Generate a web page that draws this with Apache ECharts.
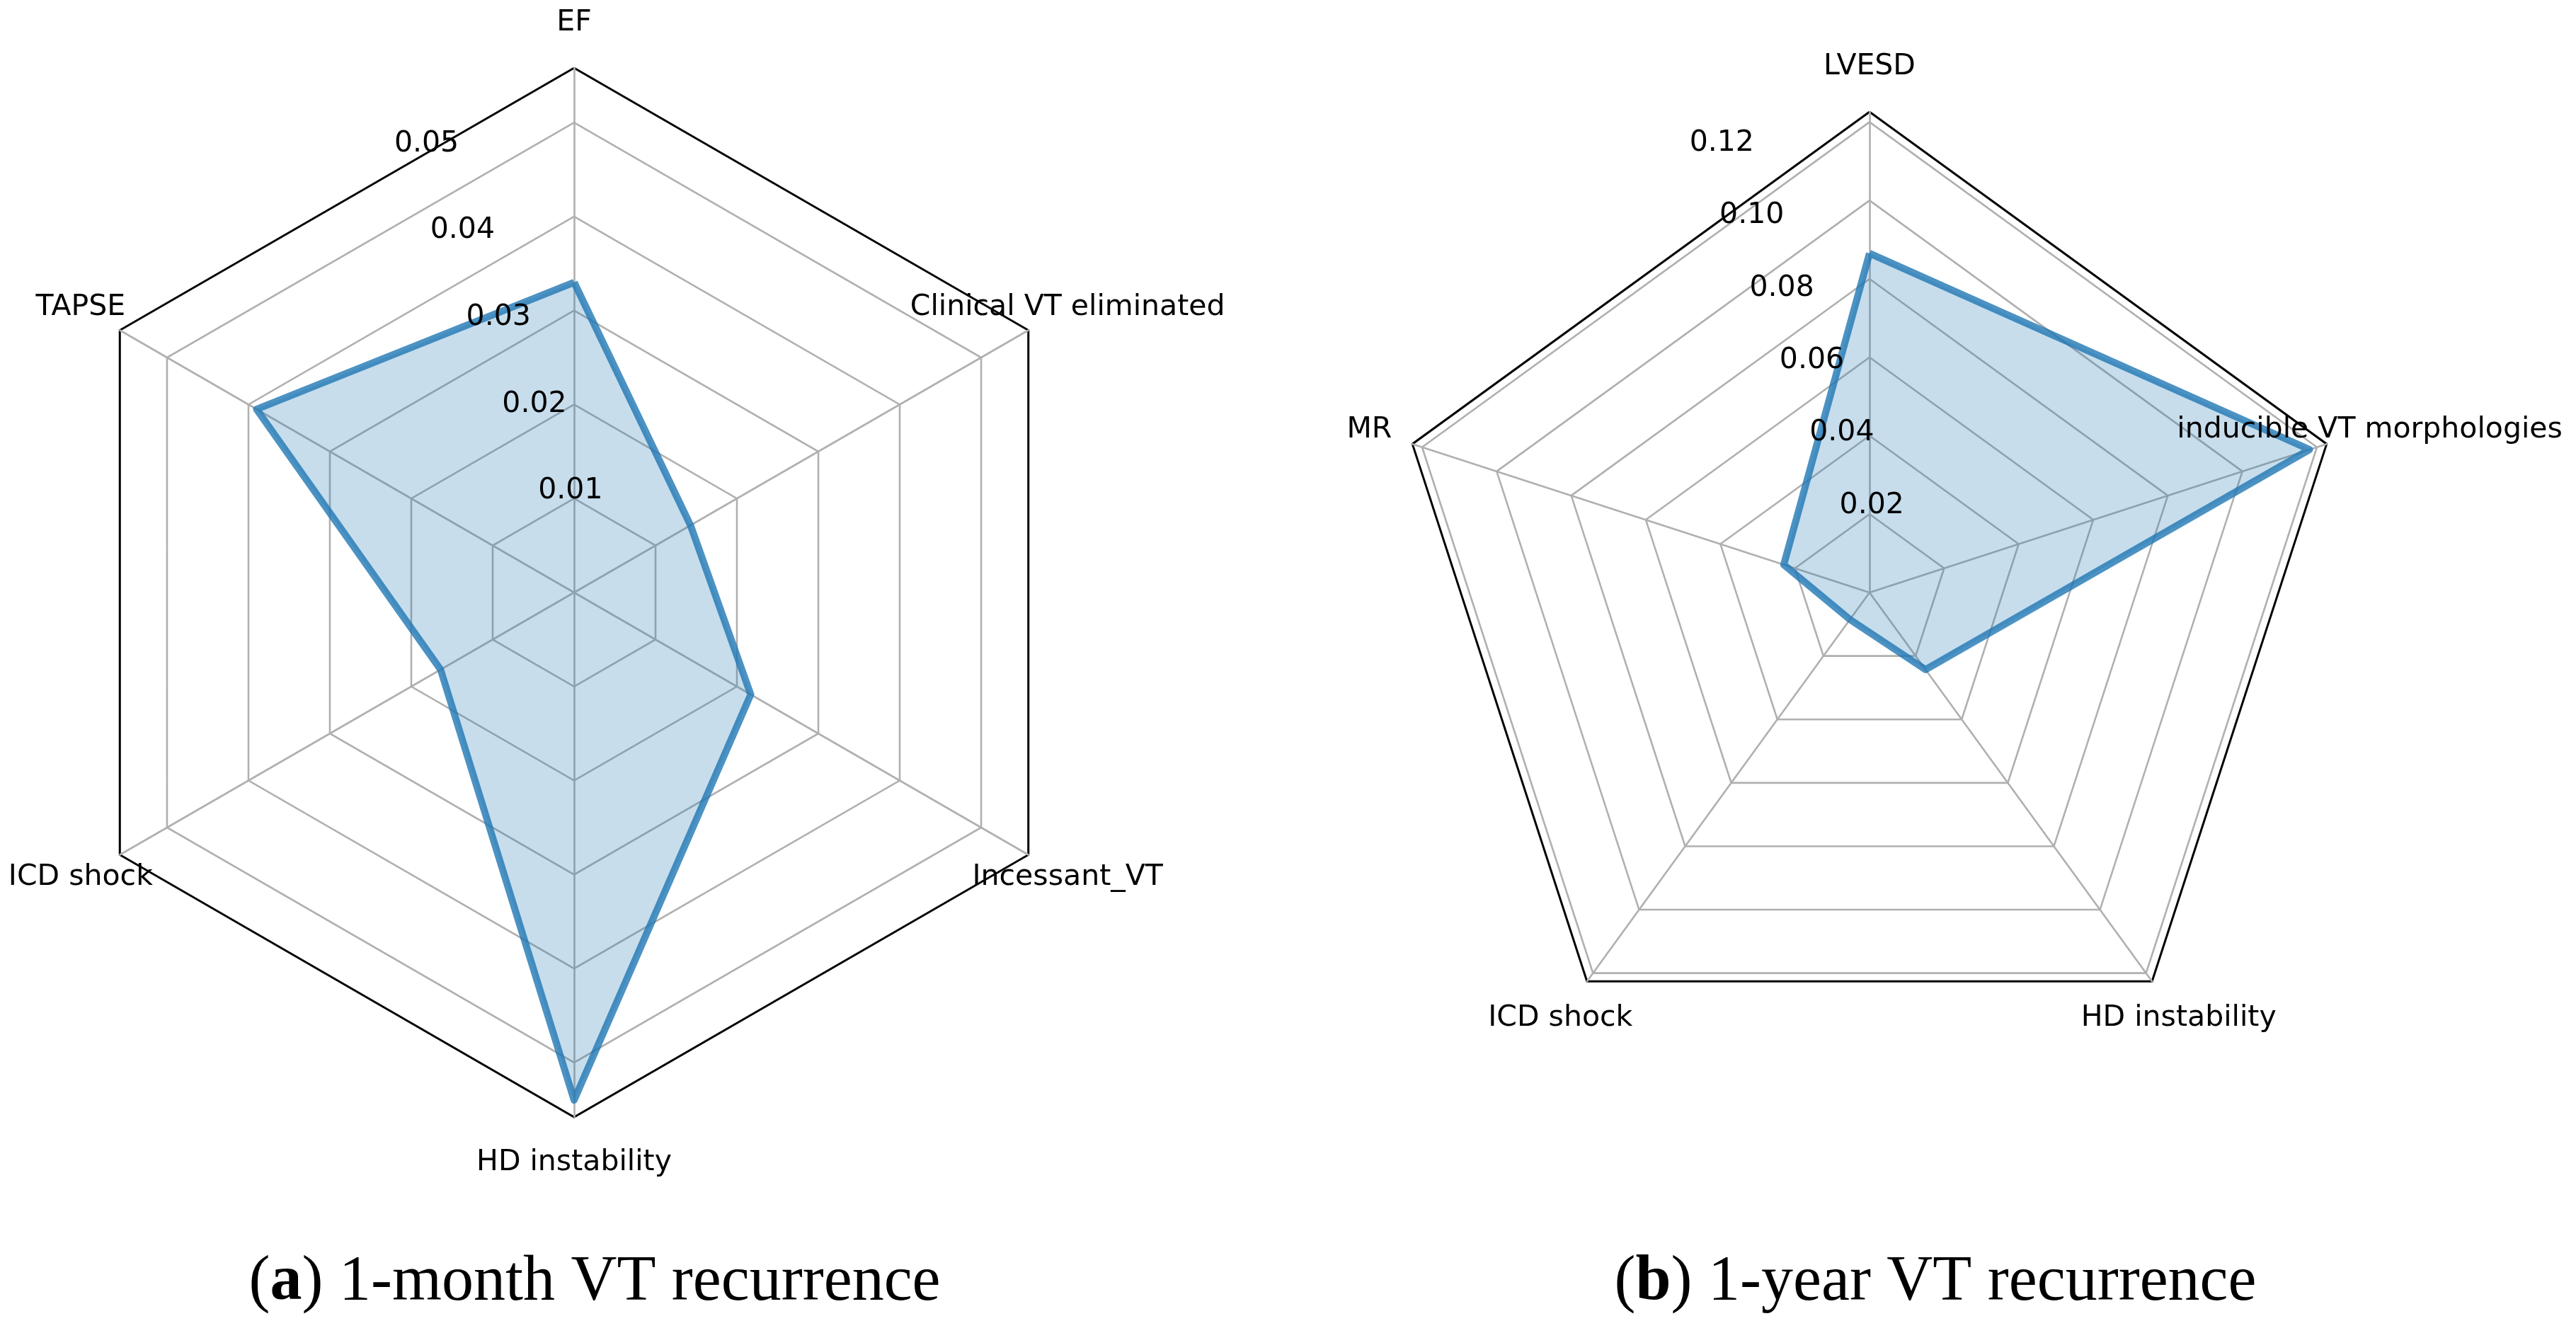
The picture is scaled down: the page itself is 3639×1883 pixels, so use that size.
<!DOCTYPE html>
<html>
<head>
<meta charset="utf-8">
<script src="https://cdn.jsdelivr.net/npm/echarts@6/dist/echarts.min.js"></script>
<style>
html,body{margin:0;padding:0;background:#fff;}
#chart{width:3639px;height:1883px;}
</style>
</head>
<body>
<div id="chart"></div>
<script>
// ---- data (clockwise from top, as in the reference) ----
const catsA = ['EF', 'Clinical VT eliminated', 'Incessant_VT', 'HD instability', 'ICD shock', 'TAPSE'];
const valsA = [0.033, 0.0143, 0.0217, 0.054, 0.0164, 0.039];
const ticksA = [0.01, 0.02, 0.03, 0.04, 0.05];
const tickLabelsA = ['0.01', '0.02', '0.03', '0.04', '0.05'];
const maxA = 0.0558;

const catsB = ['LVESD', 'inducible VT morphologies', 'HD instability', 'ICD shock', 'MR'];
const valsB = [0.0865, 0.118, 0.0243, 0.0085, 0.023];
const ticksB = [0.02, 0.04, 0.06, 0.08, 0.10, 0.12];
const tickLabelsB = ['0.02', '0.04', '0.06', '0.08', '0.10', '0.12'];
const maxB = 0.1226;

const captionA = '({b|a}) 1-month VT recurrence';
const captionB = '({b|b}) 1-year VT recurrence';

// ---- layout ----
const panels = [
  {cats: catsA, vals: valsA, ticks: ticksA, labels: tickLabelsA, max: maxA, cx: 811, cy: 837, R: 741, caption: captionA, capX: 840},
  {cats: catsB, vals: valsB, ticks: ticksB, labels: tickLabelsB, max: maxB, cx: 2641, cy: 837, R: 679, caption: captionB, capX: 2734}
];
const GRID = '#b0b0b0';
const LABEL_FONT = {fontFamily: 'DejaVu Sans', fontSize: 41, fill: '#000'};
const NAME_PAD = 64;
const RLABEL_ANGLE = 112.5 * Math.PI / 180;

const radars = [];
const series = [];
const graphics = [];

panels.forEach(function (p) {
  const n = p.cats.length;
  // ECharts places indicators counter-clockwise; reorder so they run clockwise
  const order = [0];
  for (let i = n - 1; i >= 1; i--) order.push(i);
  const tickMax = p.ticks[p.ticks.length - 1];

  // inner gray rings at tick values
  radars.push({
    center: [p.cx, p.cy],
    radius: p.R * tickMax / p.max,
    shape: 'polygon',
    splitNumber: p.ticks.length,
    indicator: order.map(function (i) { return {name: p.cats[i], min: 0, max: tickMax}; }),
    axisName: {show: false},
    axisLine: {show: false},
    axisTick: {show: false},
    axisLabel: {show: false},
    splitArea: {show: false},
    splitLine: {lineStyle: {color: GRID, width: 2.6}}
  });
  // outer frame + spokes, carries the data
  radars.push({
    center: [p.cx, p.cy],
    radius: p.R,
    shape: 'polygon',
    splitNumber: 1,
    indicator: order.map(function (i) { return {name: p.cats[i], min: 0, max: p.max}; }),
    axisName: {show: false},
    axisLine: {lineStyle: {color: GRID, width: 2.6}},
    axisTick: {show: false},
    axisLabel: {show: false},
    splitArea: {show: false},
    splitLine: {lineStyle: {color: '#000', width: 3}}
  });
  series.push({
    type: 'radar',
    radarIndex: radars.length - 1,
    symbol: 'none',
    z: 5,
    lineStyle: {color: 'rgba(31,119,180,0.8)', width: 10, join: 'round'},
    areaStyle: {color: '#1f77b4', opacity: 0.25},
    data: [{value: order.map(function (i) { return p.vals[i]; })}]
  });

  // category names (centered outside the frame)
  p.cats.forEach(function (c, i) {
    const a = (90 - i * 360 / n) * Math.PI / 180;
    const r = p.R + NAME_PAD;
    graphics.push({
      type: 'text', z: 100,
      x: p.cx + r * Math.cos(a), y: p.cy - r * Math.sin(a),
      style: Object.assign({text: c, align: 'center', verticalAlign: 'middle'}, LABEL_FONT)
    });
  });
  // radial tick labels at 22.5 deg left of vertical
  p.ticks.forEach(function (t, k) {
    const r = p.R * t / p.max;
    graphics.push({
      type: 'text', z: 100,
      x: p.cx + r * Math.cos(RLABEL_ANGLE), y: p.cy - r * Math.sin(RLABEL_ANGLE),
      style: Object.assign({text: p.labels[k], align: 'left', verticalAlign: 'bottom'}, LABEL_FONT)
    });
  });
  // caption
  graphics.push({
    type: 'text', z: 100,
    x: p.capX, y: 1812,
    style: {
      text: p.caption, align: 'center', verticalAlign: 'middle',
      fontFamily: 'Liberation Serif', fontSize: 90, fill: '#000',
      rich: {b: {fontFamily: 'Liberation Serif', fontSize: 90, fontWeight: 'bold', fill: '#000'}}
    }
  });
});

const chart = echarts.init(document.getElementById('chart'), null, {renderer: 'canvas'});
chart.setOption({
  backgroundColor: '#ffffff',
  animation: false,
  radar: radars,
  series: series,
  graphic: graphics
});
</script>
</body>
</html>
